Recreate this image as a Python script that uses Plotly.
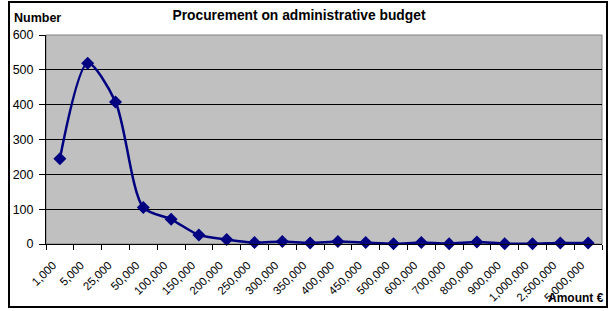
import plotly.graph_objects as go

categories = ["1,000", "5,000", "25,000", "50,000", "100,000", "150,000", "200,000",
              "250,000", "300,000", "350,000", "400,000", "450,000", "500,000",
              "600,000", "700,000", "800,000", "900,000", "1,000,000", "2,500,000",
              "5,000,000"]
counts = [245, 519, 408, 105, 71, 26, 13, 4, 7, 3, 7, 4, 1, 4, 1, 6, 1, 1, 3, 3]
y_ticks = [0, 100, 200, 300, 400, 500, 600]

FONT = "Liberation Sans, Arial, sans-serif"

fig = go.Figure()
fig.add_trace(go.Scatter(
    x=categories, y=counts, mode="lines+markers",
    line=dict(color="#000080", width=2.5, shape="spline", smoothing=0.8),
    marker=dict(symbol="diamond", size=10, color="#000080"),
    cliponaxis=False, showlegend=False,
))

fig.update_layout(
    width=610, height=311,
    margin=dict(l=46, r=8, t=35, b=67),
    paper_bgcolor="white", plot_bgcolor="#C0C0C0",
    font=dict(family=FONT, size=11, color="black"),
    title=dict(text="<b>Procurement on administrative budget</b>",
               x=(299 - 46) / 556, xref="paper", xanchor="center", y=0.952, yanchor="middle",
               font=dict(size=13.8, family=FONT)),
    xaxis=dict(type="category", range=[-0.5, len(categories) - 0.5],
               tickangle=-45, tickson="boundaries",
               ticks="outside", ticklen=5, tickcolor="black",
               ticklabelshift=-7, ticklabelstandoff=9,
               showline=True, linecolor="black", linewidth=1,
               showgrid=False, tickfont=dict(size=11.5), automargin=False),
    yaxis=dict(range=[0, 600], tickvals=y_ticks, ticks="outside", ticklen=6,
               ticklabelstandoff=3,
               tickcolor="black", showline=True, linecolor="black", linewidth=1,
               showgrid=True, gridcolor="black", gridwidth=1, zeroline=False,
               tickfont=dict(size=12.5), automargin=False),
    shapes=[
        dict(type="rect", xref="paper", yref="paper", x0=0, x1=1, y0=0, y1=1,
             line=dict(color="#808080", width=1), layer="below"),
        dict(type="rect", xref="paper", yref="paper",
             x0=-37/556, x1=1 + 5/556, y0=-63/209, y1=1 + 33/209,
             line=dict(color="black", width=2)),
    ],
    annotations=[
        dict(text="<b>Number</b>", xref="paper", yref="paper", x=-34/556, y=1 + 17/209,
             xanchor="left", yanchor="middle", showarrow=False,
             font=dict(size=12.5, family=FONT)),
        dict(text="<b>Amount €</b>", xref="paper", yref="paper", x=1 + 4/556, y=-54/209,
             xanchor="right", yanchor="middle", showarrow=False,
             font=dict(size=12, family=FONT)),
    ],
)

fig.write_html("out.html", config={"displayModeBar": False},
               post_script="document.body.style.margin='0';document.body.style.overflow='hidden';")
